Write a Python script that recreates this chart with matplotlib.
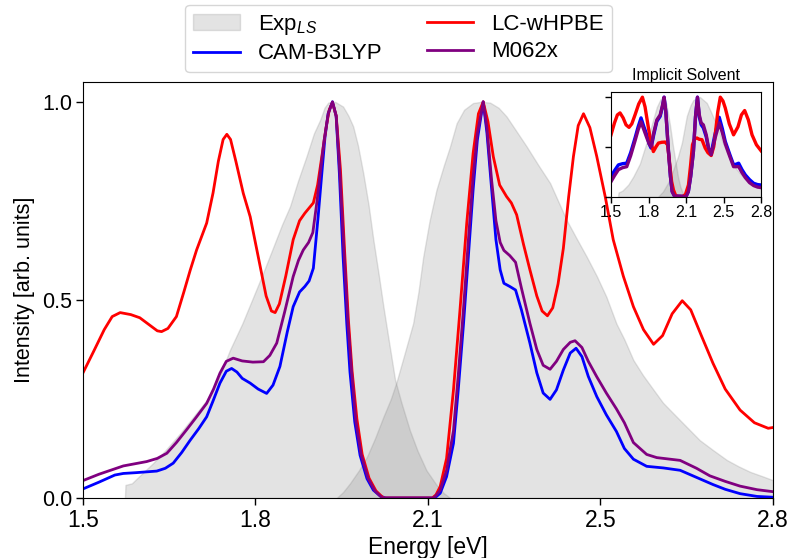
import numpy as np
import matplotlib
matplotlib.use("Agg")
import matplotlib.pyplot as plt

plt.rcParams['font.family'] = ['Liberation Sans', 'DejaVu Sans']
plt.rcParams['mathtext.fontset'] = 'custom'
plt.rcParams['mathtext.rm'] = 'Liberation Sans'
plt.rcParams['mathtext.it'] = 'Liberation Sans:italic'

# ---------------- data ----------------
# Experimental line shape, two bands
exp1_E = [1.579, 1.580, 1.592, 1.610, 1.632, 1.655, 1.683, 1.708, 1.733, 1.755, 1.777, 1.800, 1.821, 1.840,
          1.859, 1.875, 1.890, 1.905, 1.921, 1.935, 1.947, 1.955, 1.962, 1.975, 1.990, 2.000, 2.009, 2.018,
          2.028, 2.038, 2.047, 2.057, 2.066, 2.077, 2.088, 2.100, 2.116, 2.130, 2.147, 2.165, 2.180, 2.192]
exp1_I = [0.0, 0.033, 0.037, 0.060, 0.088, 0.120, 0.163, 0.205, 0.247, 0.300, 0.374, 0.440, 0.508, 0.570,
          0.635, 0.690, 0.736, 0.800, 0.862, 0.920, 0.955, 0.985, 0.998, 1.000, 0.988, 0.965, 0.938, 0.890,
          0.820, 0.740, 0.652, 0.565, 0.483, 0.390, 0.298, 0.240, 0.170, 0.120, 0.070, 0.035, 0.012, 0.0]
exp2_E = [1.978, 1.990, 2.003, 2.020, 2.035, 2.050, 2.066, 2.080, 2.091, 2.105, 2.122, 2.132, 2.141, 2.153,
          2.166, 2.180, 2.191, 2.204, 2.218, 2.235, 2.250, 2.267, 2.283, 2.298, 2.317, 2.336, 2.358, 2.380,
          2.395, 2.411, 2.430, 2.449, 2.468, 2.486, 2.505, 2.520, 2.537, 2.555, 2.575, 2.593, 2.612, 2.637,
          2.662, 2.688, 2.713, 2.735, 2.757, 2.780, 2.800]
exp2_I = [0.0, 0.015, 0.037, 0.070, 0.104, 0.150, 0.205, 0.250, 0.294, 0.360, 0.441, 0.520, 0.609, 0.700,
          0.778, 0.840, 0.885, 0.946, 0.980, 0.997, 1.000, 0.998, 0.985, 0.963, 0.925, 0.887, 0.840, 0.795,
          0.750, 0.702, 0.655, 0.609, 0.560, 0.508, 0.440, 0.400, 0.348, 0.310, 0.273, 0.240, 0.214, 0.180,
          0.146, 0.120, 0.096, 0.080, 0.066, 0.055, 0.045]

cam_E = [1.500, 1.530, 1.560, 1.576, 1.600, 1.639, 1.655, 1.670, 1.686, 1.702, 1.718, 1.733, 1.745, 1.758,
         1.770, 1.780, 1.790, 1.800, 1.815, 1.830, 1.846, 1.858, 1.871, 1.885, 1.896, 1.908, 1.918, 1.926,
         1.934, 1.943, 1.950, 1.956, 1.962, 1.970, 1.977, 1.983, 1.990, 1.997, 2.003, 2.012, 2.022, 2.035,
         2.047, 2.060, 2.070, 2.160, 2.166, 2.173, 2.185, 2.198, 2.207, 2.217, 2.226, 2.235, 2.243, 2.254,
         2.261, 2.270, 2.278, 2.286, 2.293, 2.304, 2.315, 2.326, 2.342, 2.355, 2.367, 2.380, 2.392, 2.405,
         2.418, 2.429, 2.440, 2.452, 2.468, 2.486, 2.505, 2.520, 2.537, 2.562, 2.593, 2.625, 2.656, 2.687,
         2.710, 2.738, 2.770, 2.800]
cam_I = [0.023, 0.040, 0.058, 0.062, 0.064, 0.068, 0.075, 0.088, 0.115, 0.146, 0.175, 0.205, 0.245, 0.290,
         0.320, 0.327, 0.318, 0.302, 0.290, 0.275, 0.264, 0.285, 0.332, 0.420, 0.483, 0.520, 0.534, 0.548,
         0.580, 0.710, 0.820, 0.912, 0.971, 1.000, 0.963, 0.820, 0.610, 0.440, 0.318, 0.192, 0.108, 0.049,
         0.020, 0.005, 0.0, 0.0, 0.004, 0.012, 0.054, 0.138, 0.273, 0.441, 0.609, 0.778, 0.904, 1.000,
         0.922, 0.778, 0.652, 0.576, 0.542, 0.534, 0.525, 0.475, 0.391, 0.316, 0.265, 0.249, 0.273, 0.323,
         0.366, 0.378, 0.357, 0.307, 0.256, 0.210, 0.168, 0.125, 0.098, 0.080, 0.076, 0.070, 0.052, 0.034,
         0.022, 0.011, 0.004, 0.002]

lc_E = [1.500, 1.520, 1.540, 1.555, 1.570, 1.590, 1.607, 1.625, 1.640, 1.648, 1.660, 1.676, 1.690, 1.702,
        1.714, 1.733, 1.745, 1.755, 1.764, 1.771, 1.778, 1.788, 1.802, 1.815, 1.830, 1.845, 1.855, 1.862,
        1.870, 1.882, 1.896, 1.908, 1.918, 1.934, 1.942, 1.950, 1.958, 1.964, 1.970, 1.977, 1.985, 1.993,
        2.000, 2.007, 2.016, 2.026, 2.039, 2.052, 2.066, 2.158, 2.165, 2.173, 2.185, 2.198, 2.210, 2.223,
        2.235, 2.245, 2.254, 2.263, 2.273, 2.285, 2.298, 2.307, 2.317, 2.330, 2.342, 2.355, 2.365, 2.375,
        2.385, 2.395, 2.405, 2.415, 2.424, 2.433, 2.443, 2.455, 2.468, 2.484, 2.499, 2.518, 2.537, 2.556,
        2.575, 2.592, 2.610, 2.629, 2.645, 2.665, 2.687, 2.710, 2.738, 2.765, 2.791, 2.800]
lc_I = [0.316, 0.370, 0.425, 0.458, 0.468, 0.463, 0.455, 0.437, 0.422, 0.420, 0.428, 0.458, 0.520, 0.575,
        0.626, 0.694, 0.770, 0.850, 0.905, 0.918, 0.905, 0.850, 0.769, 0.710, 0.610, 0.510, 0.472, 0.468,
        0.490, 0.560, 0.652, 0.700, 0.719, 0.745, 0.790, 0.862, 0.935, 0.980, 0.998, 0.965, 0.830, 0.620,
        0.450, 0.320, 0.200, 0.110, 0.050, 0.018, 0.0, 0.0, 0.008, 0.029, 0.100, 0.273, 0.470, 0.694,
        0.870, 0.970, 1.000, 0.950, 0.862, 0.790, 0.761, 0.745, 0.715, 0.640, 0.576, 0.510, 0.472, 0.460,
        0.480, 0.540, 0.630, 0.760, 0.862, 0.940, 0.970, 0.935, 0.862, 0.760, 0.652, 0.560, 0.483, 0.425,
        0.388, 0.410, 0.465, 0.498, 0.475, 0.410, 0.340, 0.275, 0.222, 0.190, 0.176, 0.178]

m06_E = [1.500, 1.530, 1.576, 1.620, 1.640, 1.658, 1.676, 1.695, 1.714, 1.733, 1.746, 1.758, 1.770, 1.783,
         1.800, 1.820, 1.840, 1.852, 1.865, 1.880, 1.896, 1.906, 1.915, 1.925, 1.933, 1.941, 1.947, 1.954,
         1.962, 1.970, 1.977, 1.984, 1.992, 1.999, 2.006, 2.014, 2.024, 2.037, 2.050, 2.064, 2.160, 2.165,
         2.173, 2.185, 2.198, 2.207, 2.217, 2.226, 2.235, 2.243, 2.254, 2.261, 2.270, 2.278, 2.286, 2.293,
         2.304, 2.315, 2.326, 2.342, 2.355, 2.367, 2.380, 2.392, 2.405, 2.418, 2.427, 2.440, 2.452, 2.468,
         2.486, 2.505, 2.520, 2.537, 2.562, 2.581, 2.625, 2.656, 2.681, 2.710, 2.738, 2.770, 2.800]
m06_I = [0.044, 0.060, 0.081, 0.092, 0.100, 0.113, 0.140, 0.172, 0.205, 0.239, 0.275, 0.315, 0.345, 0.353,
         0.346, 0.343, 0.344, 0.360, 0.391, 0.470, 0.559, 0.600, 0.626, 0.645, 0.670, 0.750, 0.820, 0.900,
         0.970, 1.000, 0.965, 0.820, 0.615, 0.445, 0.320, 0.195, 0.110, 0.050, 0.018, 0.0, 0.0, 0.006,
         0.020, 0.070, 0.170, 0.310, 0.480, 0.650, 0.810, 0.920, 1.000, 0.935, 0.800, 0.700, 0.645, 0.625,
         0.612, 0.595, 0.530, 0.441, 0.375, 0.335, 0.325, 0.345, 0.375, 0.393, 0.397, 0.380, 0.345, 0.306,
         0.265, 0.225, 0.190, 0.140, 0.110, 0.102, 0.095, 0.075, 0.056, 0.042, 0.030, 0.021, 0.016]

# Inset: implicit solvent
in_exp1_E = [1.560, 1.565, 1.600, 1.650, 1.693, 1.750, 1.810, 1.860, 1.897, 1.930, 1.955, 1.980, 2.012,
             2.035, 2.056, 2.080, 2.100, 2.120, 2.140]
in_exp1_I = [0.0, 0.040, 0.060, 0.120, 0.200, 0.330, 0.550, 0.750, 0.900, 0.980, 1.000, 0.930, 0.710,
             0.520, 0.370, 0.200, 0.100, 0.040, 0.0]
in_exp2_E = [1.910, 1.950, 2.000, 2.040, 2.080, 2.114, 2.157, 2.190, 2.214, 2.270, 2.330, 2.370, 2.418,
             2.460, 2.505, 2.550, 2.590, 2.650, 2.707, 2.750, 2.800]
in_exp2_I = [0.0, 0.050, 0.150, 0.270, 0.400, 0.540, 0.810, 0.920, 0.970, 1.000, 0.940, 0.840, 0.710,
             0.570, 0.440, 0.340, 0.270, 0.190, 0.130, 0.100, 0.080]

in_lc_E = [1.500, 1.530, 1.555, 1.578, 1.605, 1.630, 1.656, 1.680, 1.708, 1.740, 1.772, 1.795, 1.824, 1.845,
           1.867, 1.890, 1.911, 1.940, 1.969, 1.990, 2.002, 2.012, 2.025, 2.041, 2.060, 2.080, 2.120, 2.145,
           2.171, 2.190, 2.206, 2.225, 2.244, 2.265, 2.288, 2.316, 2.340, 2.368, 2.390, 2.403, 2.425, 2.447,
           2.470, 2.490, 2.525, 2.562, 2.600, 2.630, 2.658, 2.690, 2.722, 2.760, 2.800]
in_lc_I = [0.620, 0.740, 0.820, 0.840, 0.790, 0.720, 0.695, 0.730, 0.820, 0.930, 0.998, 0.900, 0.690, 0.550,
           0.452, 0.500, 0.537, 0.545, 0.547, 0.520, 0.400, 0.285, 0.150, 0.066, 0.010, 0.0, 0.0, 0.020,
           0.116, 0.320, 0.520, 0.580, 0.588, 0.575, 0.571, 0.487, 0.440, 0.412, 0.500, 0.620, 0.850, 0.998,
           0.960, 0.890, 0.730, 0.620, 0.700, 0.820, 0.864, 0.770, 0.620, 0.520, 0.460]

in_cam_E = [1.500, 1.530, 1.564, 1.600, 1.636, 1.670, 1.708, 1.735, 1.760, 1.785, 1.810, 1.830, 1.847, 1.870,
            1.897, 1.926, 1.945, 1.960, 1.975, 1.998, 2.015, 2.030, 2.050, 2.150, 2.170, 2.190, 2.214, 2.232,
            2.249, 2.265, 2.281, 2.300, 2.325, 2.345, 2.368, 2.400, 2.438, 2.465, 2.490, 2.530, 2.562, 2.585,
            2.606, 2.635, 2.664, 2.700, 2.736, 2.770, 2.800]
in_cam_I = [0.200, 0.260, 0.318, 0.330, 0.335, 0.440, 0.588, 0.700, 0.790, 0.700, 0.620, 0.530, 0.487, 0.620,
            0.756, 0.806, 0.900, 0.998, 0.850, 0.452, 0.200, 0.050, 0.005, 0.0, 0.050, 0.200, 0.452, 0.800,
            0.998, 0.800, 0.722, 0.690, 0.600, 0.480, 0.436, 0.620, 0.796, 0.680, 0.553, 0.420, 0.318, 0.325,
            0.335, 0.270, 0.217, 0.170, 0.133, 0.120, 0.116]

in_m06_E = in_cam_E
in_m06_I = [0.150, 0.210, 0.270, 0.290, 0.300, 0.410, 0.560, 0.670, 0.750, 0.670, 0.590, 0.530, 0.500, 0.640,
            0.770, 0.820, 0.910, 0.998, 0.850, 0.452, 0.200, 0.050, 0.005, 0.0, 0.050, 0.200, 0.452, 0.800,
            0.998, 0.820, 0.740, 0.720, 0.620, 0.490, 0.420, 0.580, 0.740, 0.640, 0.530, 0.400, 0.300, 0.300,
            0.300, 0.240, 0.190, 0.140, 0.110, 0.095, 0.090]

xtick_vals = np.linspace(1.5, 2.8, 5)
xtick_labels = ['1.5', '1.8', '2.1', '2.5', '2.8']
ytick_vals = [0.0, 0.5, 1.0]

# ---------------- figure ----------------
fig = plt.figure(figsize=(7.92, 5.58), dpi=100)
ax = fig.add_axes([0.1048, 0.1075, 0.8712, 0.7455])

grey_kw = dict(facecolor='grey', edgecolor='grey', alpha=0.22, linewidth=1.0)
h_exp = ax.fill_between(exp1_E, 0, exp1_I, label='Exp$_{LS}$', **grey_kw)
ax.fill_between(exp2_E, 0, exp2_I, **grey_kw)
h_cam, = ax.plot(cam_E, cam_I, color='#0000ff', lw=2.0, label='CAM-B3LYP')
h_lc, = ax.plot(lc_E, lc_I, color='#ff0000', lw=2.0, label='LC-wHPBE')
h_m06, = ax.plot(m06_E, m06_I, color='#800080', lw=2.0, label='M062x')

ax.set_xlim(1.5, 2.8)
ax.set_ylim(0, 1.05)
ax.set_xticks(xtick_vals)
ax.set_xticklabels(xtick_labels)
ax.set_yticks(ytick_vals)
ax.set_yticklabels(['0.0', '0.5', '1.0'])
ax.tick_params(direction='out', length=5, width=1)
ax.tick_params(axis='x', labelsize=16.5, pad=3)
ax.tick_params(axis='y', labelsize=15.5, pad=3)
ax.set_xlabel('Energy [eV]', fontsize=16.5, labelpad=3)
ax.set_ylabel('Intensity [arb. units]', fontsize=15.5, labelpad=5)

fig.legend(handles=[h_exp, h_cam, h_lc, h_m06], loc='upper center',
           bbox_to_anchor=(398.5 / 792, 1 - 5 / 558), borderaxespad=0,
           ncol=2, fontsize=16, frameon=True, edgecolor='#cccccc', fancybox=True,
           handlelength=2.1, columnspacing=2.0, labelspacing=0.3,
           borderpad=0.35, handletextpad=0.8)

# ---------------- inset ----------------
axi = fig.add_axes([0.7715, 0.6478, 0.1894, 0.1873])
axi.fill_between(in_exp1_E, 0, in_exp1_I, **grey_kw)
axi.fill_between(in_exp2_E, 0, in_exp2_I, **grey_kw)
axi.plot(in_cam_E, in_cam_I, color='#0000ff', lw=2.4)
axi.plot(in_lc_E, in_lc_I, color='#ff0000', lw=2.4)
axi.plot(in_m06_E, in_m06_I, color='#800080', lw=2.4)
axi.set_xlim(1.5, 2.8)
axi.set_ylim(0, 1.05)
axi.set_xticks(xtick_vals)
axi.set_xticklabels(xtick_labels)
axi.set_yticks([0.0, 0.5, 1.0])
axi.set_yticklabels([])
axi.tick_params(direction='out', length=4, width=1, labelsize=11.5, pad=2)
axi.set_title('Implicit Solvent', fontsize=11.5, pad=9)

fig.savefig('out.png', dpi=100)
